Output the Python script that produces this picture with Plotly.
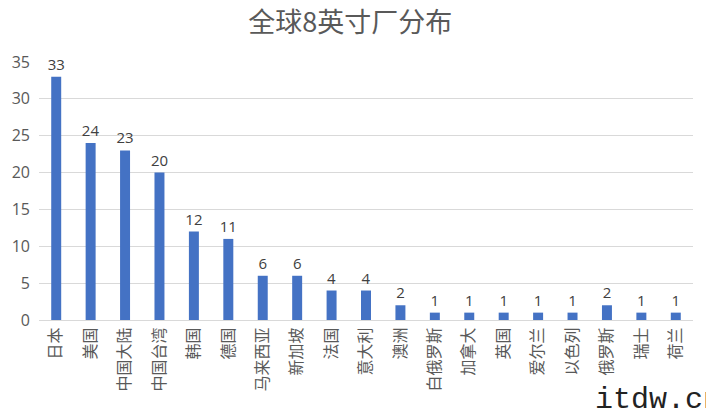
import plotly.graph_objects as go

categories = ["日本", "美国", "中国大陆", "中国台湾", "韩国", "德国", "马来西亚", "新加坡", "法国",
              "意大利", "澳洲", "白俄罗斯", "加拿大", "英国", "爱尔兰", "以色列", "俄罗斯", "瑞士", "荷兰"]
values = [33, 24, 23, 20, 12, 11, 6, 6, 4, 4, 2, 1, 1, 1, 1, 1, 2, 1, 1]
y_ticks = [0, 5, 10, 15, 20, 25, 30, 35]

fig = go.Figure()
fig.add_trace(go.Bar(
    x=categories, y=values,
    marker=dict(color="#4472C4", line=dict(width=0)),
    text=[str(v) for v in values], textposition="outside",
    textangle=0, constraintext="none",
    textfont=dict(family="Open Sans, Noto Sans CJK SC", size=15, color="#404040"),
    cliponaxis=False,
))

fig.update_layout(
    width=706, height=408,
    margin=dict(l=39, r=13, t=62, b=88),
    paper_bgcolor="white", plot_bgcolor="white",
    bargap=0.71,
    showlegend=False,
    title=dict(text="全球8英寸厂分布", x=0.496, xanchor="center", y=0.945, yanchor="middle",
               font=dict(family="Noto Sans CJK SC", size=27, color="#595959")),
    xaxis=dict(
        tickangle=-90, showgrid=False, showline=True, linecolor="#d9d9d9", linewidth=1,
        ticks="", tickfont=dict(family="Noto Sans CJK SC", size=16, color="#595959"),
    ),
    yaxis=dict(
        range=[0, 35], tickvals=y_ticks, showgrid=True, gridcolor="#d9d9d9", gridwidth=1,
        zeroline=False, showline=False, ticks="", ticklabelstandoff=8,
        tickfont=dict(family="Open Sans", size=16, color="#595959"),
    ),
    annotations=[dict(text="itdw.cn", xref="paper", yref="paper", x=1.0, y=-0.225,
                      xanchor="left", yanchor="top", xshift=-100, yshift=-3, showarrow=False,
                      font=dict(family="Liberation Mono", size=30, color="#222222"))],
)

fig.write_html("out.html")
